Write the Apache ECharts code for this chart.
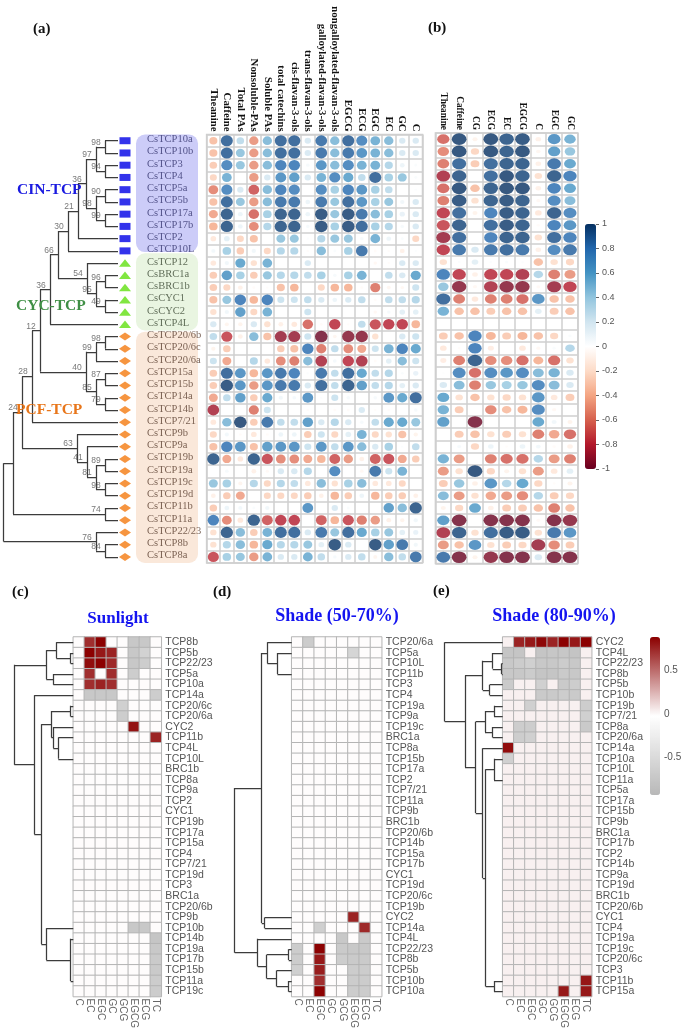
<!DOCTYPE html>
<html><head><meta charset="utf-8">
<style>html,body{margin:0;padding:0;background:#fff}#chart{width:685px;height:1031px;filter:blur(0.45px)}</style>
<script src="https://cdn.jsdelivr.net/npm/echarts@6/dist/echarts.min.js"></script>
</head><body><div id="chart"></div>
<script>
// ---------- panel (a)/(b) data ----------
const rowsA=['CsTCP10a','CsTCP10b','CsTCP3','CsTCP4','CsTCP5a','CsTCP5b','CsTCP17a','CsTCP17b','CsTCP2','CsTCP10L','CsTCP12','CsBRC1a','CsBRC1b','CsCYC1','CsCYC2','CsTCP4L','CsTCP20/6b','CsTCP20/6c','CsTCP20/6a','CsTCP15a','CsTCP15b','CsTCP14a','CsTCP14b','CsTCP7/21','CsTCP9b','CsTCP9a','CsTCP19b','CsTCP19a','CsTCP19c','CsTCP19d','CsTCP11b','CsTCP11a','CsTCP22/23','CsTCP8b','CsTCP8a'];
const colsA=['Theanine','Caffeine','Total PAs','Nonsoluble-PAs','Soluble PAs','total catechins','cis-flavan-3-ols','trans-flavan-3-ols','galloylated-flavan-3-ols','nongalloylated-flavan-3-ols','EGCG','ECG','EGC','EC','GC','C'];
const colsB=['Theanine','Caffeine','CG','ECG','EC','EGCG','C','EGC','GC'];
const matrixA=[
[-.35,.9,.3,-.5,.5,.9,.9,.2,.85,.5,.9,.75,.55,.5,.2,.2],
[-.35,.9,.45,-.5,.5,.9,.9,.2,.85,.5,.85,.7,.55,.5,.2,.2],
[-.3,.75,.45,-.5,.5,.8,.8,.05,.7,.5,.75,.55,.55,.35,.1,.03],
[-.25,.55,0,-.5,.2,.7,.65,.2,.55,.75,.6,.3,.9,.4,.45,.03],
[-.55,.75,.2,-.7,.5,.8,.75,0,.75,.4,.8,.7,.4,.3,0,.02],
[-.35,.9,.45,-.5,.5,.85,.85,.1,.85,.45,.9,.7,.4,.45,.08,.2],
[-.45,.95,.1,-.65,.4,.95,.95,.1,.98,.45,.98,.85,.5,.4,.12,.2],
[-.4,.95,.1,-.55,.35,.95,.95,.05,.98,.4,.98,.9,.4,.35,.05,.2],
[-.15,.15,-.25,-.35,0,.45,.45,.02,.35,.45,.45,.05,.55,.1,.03,-.25],
[.07,.4,-.3,.08,-.25,.35,.35,-.02,.5,.03,.4,.85,-.03,-.02,-.1,.02],
[-.15,.08,.6,-.2,.55,0,0,.2,0,0,0,0,-.05,-.02,.2,.2],
[-.3,.65,.4,-.3,.45,.35,.35,.3,.4,.05,.4,.55,0,.3,.2,.6],
[-.3,-.25,-.1,-.03,-.02,-.35,-.4,0,-.25,-.4,-.4,-.03,-.6,-.06,-.05,.25],
[-.35,.45,.8,-.4,.8,.25,.25,.3,.2,.1,.2,.3,-.03,.3,.3,.35],
[-.2,.08,.65,-.25,.55,0,0,.25,0,0,0,0,-.05,.05,.15,.15],
[.2,-.07,-.08,.2,-.2,-.1,-.15,-.65,-.03,-.8,-.02,.3,-.75,-.8,-.8,-.4],
[.3,-.75,-.1,.5,-.35,-.9,-.9,.25,-1,-.06,-.95,-.95,-.2,0,.2,.25],
[-.08,-.3,0,0,0,-.3,-.35,.8,-.6,.3,-.55,-.45,.25,.55,.8,.6],
[.25,-.45,0,.35,-.15,-.55,-.6,.5,-.85,.06,-.8,-.85,-.03,.15,.5,.25],
[-.3,.9,.7,-.4,.7,.85,.8,.02,.85,.3,.9,.6,.3,.35,.03,.12],
[-.3,.98,.7,-.5,.7,.85,.85,.2,.9,.3,.95,.65,.3,.35,.15,.2],
[-.45,.3,.65,-.3,.6,.08,.06,.7,.02,.25,.05,0,.05,.7,.6,.9],
[-.85,0,0,-.6,.25,0,0,-.02,0,-.03,-.03,.2,-.02,-.02,0,.05],
[-.15,.5,1,-.3,.85,.3,.3,.65,.2,.35,.2,.05,.3,.6,.6,.45],
[-.25,.07,-.03,-.15,-.03,.1,.1,-.3,.25,-.25,.15,.55,-.25,-.2,-.35,-.08],
[-.35,.8,.7,-.35,.65,.7,.7,.25,.7,.3,.7,.5,.2,.4,.02,.3],
[.95,-.45,-.15,.95,-.75,-.55,-.55,-.45,-.4,-.7,-.5,-.1,-.7,-.75,-.45,-.3],
[0,.05,0,-.1,-.04,.2,.2,.35,0,.75,0,-.05,.85,.25,.55,0],
[.45,.4,-.07,.35,-.25,.35,.3,-.15,.5,-.2,.4,.5,-.15,-.15,-.25,0],
[-.1,-.3,-.45,0,-.25,-.25,-.25,-.3,-.1,-.4,-.3,.1,-.4,-.3,-.3,-.1],
[-.3,.1,.07,.03,.08,0,0,.7,0,.2,.03,0,0,.65,.5,.95],
[.8,-.55,-.15,.95,-.7,-.8,-.8,0,-.7,-.4,-.75,-.6,-.5,-.1,-.08,.08],
[-.2,.95,.5,-.3,.55,.9,.9,.2,.85,.45,.9,.6,.4,.45,.15,.12],
[-.2,.35,.5,-.4,.6,.35,.35,.45,.15,.98,.2,0,.98,.65,.85,.08],
[-.75,.4,.45,-.5,.55,.2,.2,.55,.3,.05,.2,.3,-.07,.5,.3,.85]];
const matrixB=[
[-.65,1,-.08,1,.95,.98,-.1,.7,.55],
[-.55,1,-.25,1,.95,1,-.06,.65,.45],
[-.6,.9,-.3,.9,.95,.95,-.1,.85,.6],
[-.85,.95,0,.9,1,.95,-.2,.95,.8],
[-.65,1,-.35,.95,1,1,-.1,.8,.6],
[-.6,.98,-.2,.95,.98,.95,-.05,.75,.5],
[-.8,.9,-.08,.8,.98,.95,-.15,.95,.75],
[-.75,.95,0,.9,.98,.95,-.03,.8,.7],
[-.9,.9,0,.8,.95,.95,-.2,.9,.8],
[-.8,.85,.2,.85,.9,.85,-.1,.75,.85],
[-.2,.02,.15,.02,.03,.02,-.35,-.2,-.25],
[.8,-.8,-.1,-.8,-.8,-.85,.35,-.6,-.5],
[.45,-.95,-.05,-.85,-.95,-.95,-.04,-.9,-.8],
[.9,-.6,-.15,-.6,-.6,-.65,.7,-.35,-.35],
[.55,-.35,-.35,-.3,-.35,-.35,.15,-.3,-.35],
[0,0,0,0,0,0,0,0,0],
[-.3,-.35,.8,-.4,-.3,-.4,-.35,-.25,.03],
[-.15,-.02,.8,-.12,0,-.15,-.05,.03,.35],
[-.12,-.6,.95,-.55,-.55,-.65,-.4,-.65,-.2],
[.01,.75,-.65,.75,.7,.75,.5,.55,.2],
[.2,.5,-.6,.45,.4,.45,.75,.5,.2],
[.6,-.2,-.35,-.2,-.25,-.2,.7,-.15,-.3],
[.55,-.3,0,-.55,-.35,-.4,.75,-.05,0],
[.65,0,-1,0,0,0,.6,.08,-.08],
[0,-.3,-.35,-.2,-.3,-.2,-.6,-.45,-.65],
[0,.05,-.25,.1,-.02,.1,.07,-.03,-.1],
[.55,-.5,0,-.6,-.65,-.65,.35,-.5,-.6],
[-.5,-.2,1,-.25,-.08,-.2,-.5,-.15,.15],
[-.3,.45,-.1,.7,.35,.6,-.25,-.02,-.08],
[.5,-.5,-.2,-.45,-.5,-.55,.35,-.3,-.25],
[-.08,-.25,.6,-.1,-.3,-.3,-.35,-.6,-.35],
[.65,-1,0,-1,-1,-1,-.04,-1,-.95],
[-.85,.95,-.2,.9,.98,.98,-.2,.85,.7],
[-.5,-.35,.7,-.2,-.3,-.25,-.9,-.55,-.3],
[.85,-1,-.08,-.95,-1,-1,.2,-1,-1]];
// phylogeny: [node depth, bootstrap, ...children]; leaves are row numbers
const treeA=[3.5,null,
 [13,null,
  [22,24,
   [32,28,
    [40,12,
     [50,36,
      [58,66,
       [68,30,
        [78,21,
         [86,36,
          [96,97,[105,98,0,1],[105,94,2,3]],
          [96,98,[105,90,4,5],[105,99,6,7]]],
         8],
        9],
       [87,54,10,[96,95,[105,96,11,12],[105,49,13,14]]]],
      15],
     [86,40,
      [96,99,[105,98,16,17],18],
      [96,85,[105,87,19,20],[105,79,21,22]]]],
    23],
   [77,63,24,[87,41,25,[96,81,[105,89,26,27],[105,98,28,29]]]]],
  [105,74,30,31]],
 [96,76,32,[105,84,33,34]]];
const groupSpans=[[-0.5,9.1],[9.2,15.5],[15.6,34.5]];
const groupMembers=[10,6,19];
// ---------- panels (c)(d)(e) data ----------
const metabolites=['C','EC','EGC','GC','GCG','EGCG','ECG','TC'];
const rowsC=['TCP8b','TCP5b','TCP22/23','TCP5a','TCP10a','TCP14a','TCP20/6c','TCP20/6a','CYC2','TCP11b','TCP4L','TCP10L','BRC1b','TCP8a','TCP9a','TCP2','CYC1','TCP19b','TCP17a','TCP15a','TCP4','TCP7/21','TCP19d','TCP3','BRC1a','TCP20/6b','TCP9b','TCP10b','TCP14b','TCP19a','TCP17b','TCP15b','TCP11a','TCP19c'];
const rowsD=['TCP20/6a','TCP5a','TCP10L','TCP11b','TCP3','TCP4','TCP19a','TCP9a','TCP19c','BRC1a','TCP8a','TCP15b','TCP17a','TCP2','TCP7/21','TCP11a','TCP9b','BRC1b','TCP20/6b','TCP14b','TCP15a','TCP17b','CYC1','TCP19d','TCP20/6c','TCP19b','CYC2','TCP14a','TCP4L','TCP22/23','TCP8b','TCP5b','TCP10b','TCP10a'];
const rowsE=['CYC2','TCP4L','TCP22/23','TCP8b','TCP5b','TCP10b','TCP19b','TCP7/21','TCP8a','TCP20/6a','TCP14a','TCP10a','TCP10L','TCP11a','TCP5a','TCP17a','TCP15b','TCP9b','BRC1a','TCP17b','TCP2','TCP14b','TCP9a','TCP19d','BRC1b','TCP20/6b','CYC1','TCP4','TCP19a','TCP19c','TCP20/6c','TCP3','TCP11b','TCP15a'];
const baseC=-.012, baseD=-.012, baseE=.03;
const cellsC=[['TCP8b','EC',.72],['TCP8b','EGC',.88],['TCP8b','EGCG',-.72],['TCP8b','ECG',-.72],
['TCP5b','EC',.88],['TCP5b','EGC',.8],['TCP5b','GC',.76],['TCP5b','EGCG',-.72],['TCP5b','ECG',-.6],
['TCP22/23','EC',.84],['TCP22/23','EGC',.88],['TCP22/23','GC',.74],['TCP22/23','EGCG',-.72],['TCP22/23','ECG',-.66],
['TCP5a','EC',.72],['TCP5a','GC',.72],['TCP5a','EGCG',-.66],['TCP10a','EC',.72],['TCP10a','EGC',.76],['TCP10a','GC',.72],
['TCP14a','EC',-.72],['TCP14a','EGC',-.72],['TCP14a','GC',-.72],['TCP14a','TC',-.66],
['TCP20/6c','GCG',-.62],['TCP20/6a','GCG',-.66],['CYC2','EGCG',.82],['TCP11b','TC',.76],
['TCP10b','EGCG',-.72],['TCP10b','ECG',-.72],['TCP14b','TC',-.76],['TCP19a','TC',-.72],['TCP17b','TC',-.7],['TCP15b','TC',-.7],['TCP11a','TC',-.68],['TCP19c','TC',-.68]];
const cellsD=[['TCP20/6a','EC',-.68],['TCP5a','EGCG',-.56],['CYC2','EGCG',.76],['TCP14a','EGC',-.64],['TCP14a','ECG',.74],
['TCP4L','GCG',-.72],['TCP4L','ECG',-.7],['TCP22/23','C',-.68],['TCP22/23','EGC',.88],['TCP22/23','GCG',-.7],['TCP22/23','EGCG',-.72],['TCP22/23','ECG',-.72],
['TCP8b','C',-.68],['TCP8b','EGC',.8],['TCP8b','GCG',-.66],['TCP8b','EGCG',-.7],['TCP8b','ECG',-.7],
['TCP5b','C',-.64],['TCP5b','EGC',.78],['TCP5b','EGCG',-.68],['TCP5b','ECG',-.68],
['TCP10b','EGC',.72],['TCP10b','EGCG',-.68],['TCP10b','ECG',-.68],['TCP10a','EGC',.88],['TCP10a','EGCG',-.68],['TCP10a','ECG',-.68]];
const cellsE=[['CYC2','EC',.76],['CYC2','EGC',.8],['CYC2','GC',.86],['CYC2','GCG',.76],['CYC2','EGCG',.88],['CYC2','ECG',.8],['CYC2','TC',.88],
['TCP4L','C',-.76],['TCP4L','EC',-.76],['TCP4L','GC',-.76],['TCP4L','GCG',-.74],['TCP4L','EGCG',-.74],['TCP4L','ECG',-.78],
['TCP22/23','C',-.72],['TCP22/23','EC',-.68],['TCP22/23','EGC',-.62],['TCP22/23','GC',-.72],['TCP22/23','GCG',-.72],['TCP22/23','EGCG',-.68],['TCP22/23','ECG',-.72],
['TCP8b','C',-.72],['TCP8b','EC',-.72],['TCP8b','EGC',-.68],['TCP8b','GC',-.76],['TCP8b','GCG',-.76],['TCP8b','EGCG',-.7],['TCP8b','ECG',-.72],
['TCP5b','C',-.7],['TCP5b','GC',-.62],['TCP5b','EGCG',-.7],['TCP5b','ECG',-.66],
['TCP10b','GC',-.7],['TCP10b','GCG',-.7],['TCP10b','EGCG',-.66],['TCP10b','ECG',-.7],
['TCP19b','EGC',-.62],['TCP19b','TC',-.66],['TCP7/21','TC',-.62],['TCP8a','EC',-.66],['TCP8a','EGC',-.66],['TCP8a','TC',-.7],
['TCP20/6a','EC',-.66],['TCP20/6a','EGC',-.62],['TCP14a','C',.84],['TCP10a','C',-.62],['TCP11b','TC',.8],['TCP15a','EGCG',.8],['TCP15a','TC',.8]];
// dendrograms: [height, null, ...children]; leaves are row numbers
const treeC=[59,null,
 [27,null,[17,null,0,[2.7,null,1,2]],[20,null,3,4]],
 [39,null,5,[32,null,
   [22,null,[2.7,null,6,7],[20,null,8,[15,null,9,11]]],
   [27,null,27,[2.7,null,28,32]]]]];
const treeD=[57,null,
 [30,null,[24.3,null,0,[14.3,null,1,3]],[27,null,26,27]],
 [34,null,28,[25,null,[3,null,29,30],[15,null,31,[3,null,32,33]]]]];
const treeE=[58,null,0,
 [37.7,null,
  [20,null,[10,null,1,[1,null,2,3]],[13,null,4,5]],
  [27,null,
   [17.7,null,[8.7,null,6,7],[10,null,8,9]],
   [20,null,10,[17,null,[8.7,null,11,13],[8.7,null,32,33]]]]]];
// colour-bar tick values are produced by the axes
const corrColors=['#67001F','#B2182B','#D6604D','#F4A582','#FDDBC7','#FFFFFF','#D1E5F0','#92C5DE','#4393C3','#2166AC','#053061'];
const heatColors=['#b8b8b8','#ffffff','#8b0000'];
const SERIF='"Liberation Serif",serif', SANS='"Liberation Sans",sans-serif';

const grids=[],xAxes=[],yAxes=[],series=[];
function addGrid(g,x,y){grids.push(g);const i=grids.length-1;xAxes.push(Object.assign({gridIndex:i},x));yAxes.push(Object.assign({gridIndex:i},y));return i;}
const hidden={show:false};
function walk(node,leafX,segs,tags){
  if(typeof node==='number')return {x:leafX,y:node};
  const [h,tag,...kids]=node;
  const pts=kids.map(k=>walk(k,leafX,segs,tags));
  const ys=pts.map(p=>p.y),top=Math.min(...ys),bot=Math.max(...ys),y=(top+bot)/2;
  pts.forEach(p=>segs.push({coords:[[h,p.y],[p.x,p.y]]}));
  segs.push({coords:[[h,top],[h,bot]]});
  if(tag!=null)tags.push({value:[h-9,y-.35],name:String(tag)});
  return {x:h,y};
}
function treeSeries(gi,segs){return {type:'lines',coordinateSystem:'cartesian2d',xAxisIndex:gi,yAxisIndex:gi,polyline:false,silent:true,lineStyle:{color:'#3c3c3c',width:1.25,opacity:1,curveness:0},data:segs,z:3};}

// matrices
function matrixPanel(g,cols,rows,matrix,labelSize){
  const catLine={show:true,interval:0,lineStyle:{color:'#cfcfcf',width:1.5}};
  const gi=addGrid(Object.assign({show:true,borderColor:'#cfcfcf',borderWidth:1.5,backgroundColor:'#fff'},g),
   {type:'category',data:cols,position:'top',axisLine:hidden,axisTick:hidden,splitLine:catLine,
    axisLabel:{interval:0,rotate:90,margin:3,fontFamily:SERIF,fontWeight:'bold',fontSize:labelSize,color:'#111'}},
   {type:'category',data:rows,inverse:true,axisLine:hidden,axisTick:hidden,splitLine:catLine,axisLabel:hidden});
  const cw=g.width/cols.length,ch=g.height/rows.length;
  const data=[];matrix.forEach((r,i)=>r.forEach((v,j)=>data.push([j,i,v])));
  series.push({type:'scatter',xAxisIndex:gi,yAxisIndex:gi,silent:true,z:4,data,
    symbolSize:d=>{const s=Math.pow(Math.abs(d[2]),.42);return [cw*.93*s,ch*.95*s];}});
  return series.length-1;
}
const sa=matrixPanel({left:206.6,top:134.6,width:215.9,height:428.4},colsA,rowsA,matrixA,10.8);
const sb=matrixPanel({left:435.4,top:133,width:142.5,height:430.4},colsB,rowsA,matrixB,9.4);

// phylogeny grid
const gt=addGrid({left:0,top:134.6,width:200,height:428.4},{type:'value',min:0,max:200,show:false},{type:'value',min:-.5,max:34.5,inverse:true,show:false});
const groupBg=['#ccccf8','#e9f5e1','#fae8da'];
const groupSym=[{symbol:'rect',size:[11,7],color:'#0000e6'},{symbol:'triangle',size:[12,7.5],color:'#62e012'},{symbol:'diamond',size:[12,8],color:'#f47a10'}];
const groupText=['#35356e','#3c4a34','#5a3f30'];
series.push({type:'custom',xAxisIndex:gt,yAxisIndex:gt,silent:true,z:1,
  data:groupSpans.map((s,i)=>[136,198,s[0],s[1],i]),
  renderItem:(p,api)=>{const a=api.coord([api.value(0),api.value(2)]),b=api.coord([api.value(1),api.value(3)]);
    return {type:'rect',shape:{x:a[0],y:a[1],width:b[0]-a[0],height:b[1]-a[1],r:9},style:{fill:groupBg[api.value(4)]}};}});
const segA=[],tagA=[];walk(treeA,118,segA,tagA);
series.push(treeSeries(gt,segA));
series.push({type:'scatter',xAxisIndex:gt,yAxisIndex:gt,silent:true,z:5,symbolSize:.1,data:tagA,
  label:{show:true,position:'inside',formatter:'{b}',fontFamily:SANS,fontSize:8.5,color:'#555'},itemStyle:{color:'rgba(0,0,0,0)'}});
let start=0;
groupMembers.forEach((n,g)=>{
  const idx=Array.from({length:n},(_,k)=>start+k);
  series.push({type:'scatter',xAxisIndex:gt,yAxisIndex:gt,silent:true,z:4,symbol:groupSym[g].symbol,symbolSize:groupSym[g].size,
    itemStyle:{color:groupSym[g].color},data:idx.map(r=>[125,r])});
  series.push({type:'scatter',xAxisIndex:gt,yAxisIndex:gt,silent:true,z:5,symbolSize:.1,itemStyle:{color:'rgba(0,0,0,0)'},
    data:idx.map(r=>({value:[147,r-.1],name:rowsA[r]})),
    label:{show:true,position:'right',distance:0,formatter:'{b}',fontFamily:SERIF,fontSize:10.5,color:groupText[g]}});
  start+=n;
});

// colour bars' axes (the narrow grid's split lines act as the tick marks of the bar)
const gb1=addGrid({left:596,top:224,width:3,height:245},{type:'value',min:0,max:1,show:false},
   {type:'value',min:-1,max:1,interval:.2,position:'right',axisLine:hidden,axisTick:hidden,
    splitLine:{show:true,lineStyle:{color:'#666',width:1}},
    axisLabel:{margin:3,fontFamily:SANS,fontSize:9,color:'#555'}});
const gb2=addGrid({left:650,top:627,width:10,height:174},{type:'value',min:0,max:1,show:false},
   {type:'value',min:-1,max:1,interval:.5,position:'right',axisLine:hidden,splitLine:hidden,axisTick:hidden,
    axisLabel:{margin:4,showMinLabel:false,showMaxLabel:false,fontFamily:SANS,fontSize:10,color:'#555'}});
series.push({type:'scatter',xAxisIndex:gb1,yAxisIndex:gb1,data:[],silent:true});
series.push({type:'scatter',xAxisIndex:gb2,yAxisIndex:gb2,data:[],silent:true});

// heatmaps with dendrograms
const heatIdx=[];
function heatPanel(left,width,rows,base,cells,tree,dendroWidth){
  const lookup={};cells.forEach(c=>lookup[c[0]+'|'+c[1]]=c[2]);
  const data=[];rows.forEach((r,i)=>metabolites.forEach((m,j)=>{const v=lookup[r+'|'+m];data.push([j,i,v===undefined?base:v]);}));
  const gi=addGrid({left,top:637,width,height:360},
   {type:'category',data:metabolites,position:'bottom',axisLine:hidden,axisTick:hidden,splitLine:hidden,
    axisLabel:{interval:0,rotate:-90,margin:2,fontFamily:SANS,fontSize:10,color:'#666'}},
   {type:'category',data:rows,inverse:true,position:'right',axisLine:hidden,axisTick:hidden,splitLine:hidden,
    axisLabel:{interval:0,margin:4,fontFamily:SANS,fontSize:10.5,color:'#555'}});
  series.push({type:'heatmap',xAxisIndex:gi,yAxisIndex:gi,silent:true,data,itemStyle:{borderColor:'#b4b4b4',borderWidth:1}});
  heatIdx.push(series.length-1);
  const gd=addGrid({left:left-dendroWidth,top:637,width:dendroWidth,height:360},
   {type:'value',min:0,max:dendroWidth,inverse:true,show:false},{type:'value',min:-.5,max:33.5,inverse:true,show:false});
  const segs=[];walk(tree,0,segs,[]);
  series.push(treeSeries(gd,segs));
}
heatPanel(73.3,88,rowsC,baseC,cellsC,treeC,70);
heatPanel(291.7,90,rowsD,baseD,cellsD,treeD,70);
heatPanel(502.7,89,rowsE,baseE,cellsE,treeE,70);

const panelFont={fontFamily:SERIF,fontWeight:'bold',fontSize:15,color:'#111'};
function txt(text,left,top,style,align){return {text,left,top,textAlign:align||'left',textStyle:style,padding:0};}
const titleFont={fontFamily:SERIF,fontWeight:'bold',fontSize:17,color:'#1414f0'};
const titleFontWide={fontFamily:SERIF,fontWeight:'bold',fontSize:18,color:'#1414f0'};
const groupFont=c=>({fontFamily:SERIF,fontWeight:'bold',fontSize:15.5,color:c});
const option={
  animation:false,backgroundColor:'#fff',
  title:[txt('(a)',33,22,panelFont),txt('(b)',428,21,panelFont),txt('(c)',12,585,panelFont),txt('(d)',213,585,panelFont),txt('(e)',433,584,panelFont),
    txt('Sunlight',118,610,titleFont,'center'),txt('Shade (50-70%)',337,607,titleFontWide,'center'),txt('Shade (80-90%)',554,607,titleFontWide,'center'),
    txt('CIN-TCP',17,182,groupFont('#1a1ae0')),txt('CYC-TCP',16,298,groupFont('#3f8f45')),txt('PCF-TCP',16,402,groupFont('#e8761a'))],
  grid:grids,xAxis:xAxes,yAxis:yAxes,series,
  visualMap:[
   {type:'continuous',seriesIndex:[sa,sb],dimension:2,min:-1,max:1,inRange:{color:corrColors},left:570,top:209,itemWidth:11,itemHeight:245,calculable:false,hoverLink:false,text:null,orient:'vertical',showLabel:false},
   {type:'continuous',seriesIndex:heatIdx,dimension:2,min:-.93,max:.885,inRange:{color:heatColors},left:635,top:622,itemWidth:10,itemHeight:158,calculable:false,hoverLink:false,text:null,orient:'vertical',showLabel:false}
  ]
};
echarts.init(document.getElementById('chart'),null,{renderer:'canvas',width:685,height:1031}).setOption(option);
</script>
</body></html>
